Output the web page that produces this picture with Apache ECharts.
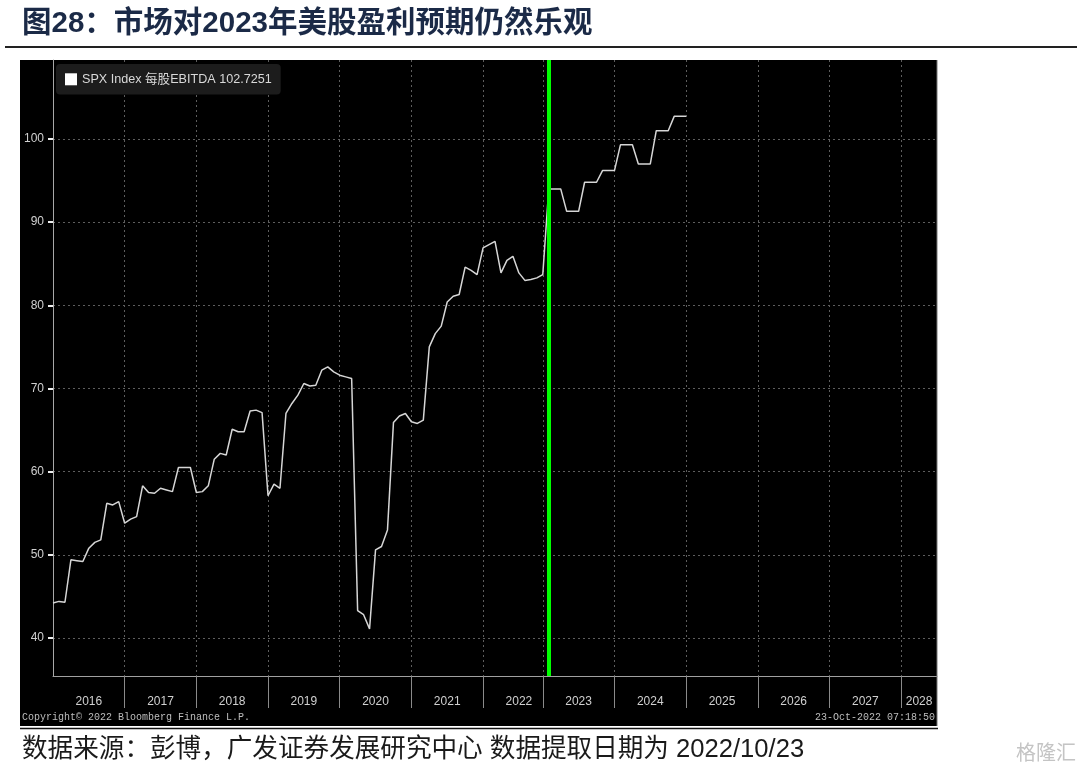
<!DOCTYPE html>
<html>
<head>
<meta charset="utf-8">
<script src="https://cdn.jsdelivr.net/npm/echarts@6/dist/echarts.min.js"></script>
<style>
  html, body { margin: 0; padding: 0; background: #fff; }
  #chart { width: 1080px; height: 776px; }
</style>
</head>
<body>
<div id="chart"></div>
<script>
// month categories: history Jan 2016 - Oct 2022, then forward months Jan 2023 - Jul 2028
const historyMonths = [];
for (let y = 2016; y <= 2022; y++) {
  const last = y === 2022 ? 10 : 12;
  for (let m = 1; m <= last; m++) historyMonths.push(y + '-' + String(m).padStart(2, '0'));
}
const forwardMonths = [];
for (let y = 2023; y <= 2028; y++) {
  const last = y === 2028 ? 7 : 12;
  for (let m = 1; m <= last; m++) forwardMonths.push(y + '-' + String(m).padStart(2, '0'));
}
const categories = historyMonths.concat(forwardMonths);

// EBITDA per share (history + first forward month)
const historyValues = [
  44.2, 44.4, 44.3, 49.4, 49.3, 49.2, 50.8, 51.5, 51.8, 56.2, 56.0, 56.4,
  53.8, 54.3, 54.6, 58.3, 57.5, 57.4, 58.0, 57.8, 57.6, 60.5, 60.5, 60.5,
  57.5, 57.6, 58.3, 61.5, 62.2, 62.0, 65.1, 64.8, 64.8, 67.3, 67.4, 67.1,
  57.1, 58.5, 58.0, 67.0, 68.2, 69.2, 70.6, 70.3, 70.4, 72.2, 72.6, 72.0,
  71.6, 71.4, 71.2, 43.3, 42.8, 41.1, 50.6, 51.0, 53.0, 65.9, 66.7, 67.0,
  66.0, 65.8, 66.2, 75.0, 76.6, 77.5, 80.4, 81.1, 81.3, 84.6, 84.2, 83.7,
  86.9, 87.3, 87.7, 83.9, 85.4, 85.9, 83.9, 83.0, 83.1, 83.3,
  83.7
];
// quarterly estimates (BEst), one value per month
const forwardValues = [
  94.0, 94.0, 94.0,
  91.3, 91.3, 91.3,
  94.8, 94.8, 94.8,
  96.2, 96.2, 96.2,
  99.3, 99.3, 99.3,
  97.0, 97.0, 97.0,
  101.0, 101.0, 101.0,
  102.7251, 102.7251, 102.7251
];
const seriesName = 'SPX Index 每股EBITDA 102.7251';
const todayMonth = '2023-02';
const yTicks = [40, 50, 60, 70, 80, 90, 100];
const yearLabelAt = ['2016-07', '2017-07', '2018-07', '2019-07', '2020-07', '2021-07', '2022-07',
  '2023-07', '2024-07', '2025-07', '2026-07', '2027-07', '2028-04'];

const myChart = echarts.init(document.getElementById('chart'));

const gray = '#d0d0d0';
const cjk = '"Liberation Sans", Arial, "Noto Sans CJK SC", sans-serif';

const isYearStart = (index, value) => value.endsWith('-01');

const option = {
  backgroundColor: '#ffffff',
  animation: false,
  graphic: [
    { type: 'rect', z: -10, shape: { x: 20, y: 60, width: 917, height: 666 }, style: { fill: '#000' } },
    { type: 'line', z: 10, shape: { x1: 937, y1: 60, x2: 937, y2: 726 }, style: { stroke: '#777', lineWidth: 1 } },
    { type: 'line', shape: { x1: 20, y1: 728.5, x2: 938, y2: 728.5 }, style: { stroke: '#111', lineWidth: 1.5 } },
    { type: 'line', shape: { x1: 5, y1: 47, x2: 1077, y2: 47 }, style: { stroke: '#222', lineWidth: 2 } },
    {
      type: 'text', x: 22, y: 24,
      style: { text: '图28：市场对2023年美股盈利预期仍然乐观', fill: '#1b2a47',
        font: 'bold 29.5px ' + cjk, verticalAlign: 'middle' }
    },
    {
      type: 'text', x: 22, y: 717, z: 10,
      style: { text: 'Copyright\u00a9 2022 Bloomberg Finance L.P.', fill: '#bdbdbd',
        font: '10px "Liberation Mono", monospace', verticalAlign: 'middle' }
    },
    {
      type: 'text', x: 935, y: 717, z: 10,
      style: { text: '23-Oct-2022 07:18:50', fill: '#bdbdbd',
        font: '10px "Liberation Mono", monospace', align: 'right', verticalAlign: 'middle' }
    },
    {
      type: 'text', x: 22, y: 750,
      style: { text: '数据来源：彭博，广发证券发展研究中心 数据提取日期为 2022/10/23', fill: '#1a1a1a',
        font: '25.6px ' + cjk, verticalAlign: 'middle' }
    },
    {
      type: 'text', x: 1076, y: 752,
      style: { text: '格隆汇', fill: '#c4c4c4', font: '20px "Noto Sans CJK SC", sans-serif',
        align: 'right', verticalAlign: 'middle' }
    }
  ],
  legend: {
    left: 56,
    top: 64,
    padding: [9, 9],
    backgroundColor: '#1c1c1c',
    borderRadius: 4,
    icon: 'rect',
    itemWidth: 12,
    itemHeight: 12,
    itemGap: 5,
    textStyle: { color: '#d9d9d9', fontSize: 12.6, fontFamily: cjk },
    data: [seriesName]
  },
  grid: { left: 53, right: 143, top: 60, bottom: 100, containLabel: false },
  xAxis: {
    type: 'category',
    boundaryGap: false,
    data: categories,
    axisLine: { show: true, lineStyle: { color: '#a0a0a0', width: 1 } },
    axisTick: {
      show: true, length: 32, inside: false,
      interval: (index, value) => index > 0 && isYearStart(index, value),
      lineStyle: { color: '#8a8a8a', width: 1 }
    },
    axisLabel: {
      interval: (index, value) => yearLabelAt.includes(value),
      formatter: (value) => value.slice(0, 4),
      color: gray, fontSize: 12, margin: 20, fontFamily: '"Liberation Sans", Arial, sans-serif'
    },
    splitLine: {
      show: true,
      interval: isYearStart,
      lineStyle: { color: '#5e5e5e', type: [2, 3], width: 1 }
    }
  },
  yAxis: {
    type: 'value',
    min: 35.43,
    max: 109.5,
    splitNumber: 7,
    axisLine: { show: true, lineStyle: { color: '#a8a8a8', width: 1 } },
    axisTick: { show: true, length: 5, customValues: yTicks, lineStyle: { color: '#eeeeee', width: 2 } },
    axisLabel: {
      customValues: yTicks,
      color: gray, fontSize: 12, margin: 9, fontFamily: '"Liberation Sans", Arial, sans-serif'
    },
    splitLine: {
      show: true,
      lineStyle: { color: '#5e5e5e', type: [2, 3], width: 1 }
    }
  },
  series: [
    {
      name: seriesName,
      type: 'line',
      data: historyValues.concat(forwardValues),
      showSymbol: false,
      symbol: 'none',
      itemStyle: { color: '#ffffff' },
      lineStyle: { color: '#d6d6d6', width: 1.5 },
      markLine: {
        silent: true,
        symbol: ['none', 'none'],
        label: { show: false },
        lineStyle: { color: '#00ff00', width: 4, type: 'solid' },
        data: [{ xAxis: todayMonth }]
      }
    }
  ]
};

myChart.setOption(option);
</script>
</body>
</html>
